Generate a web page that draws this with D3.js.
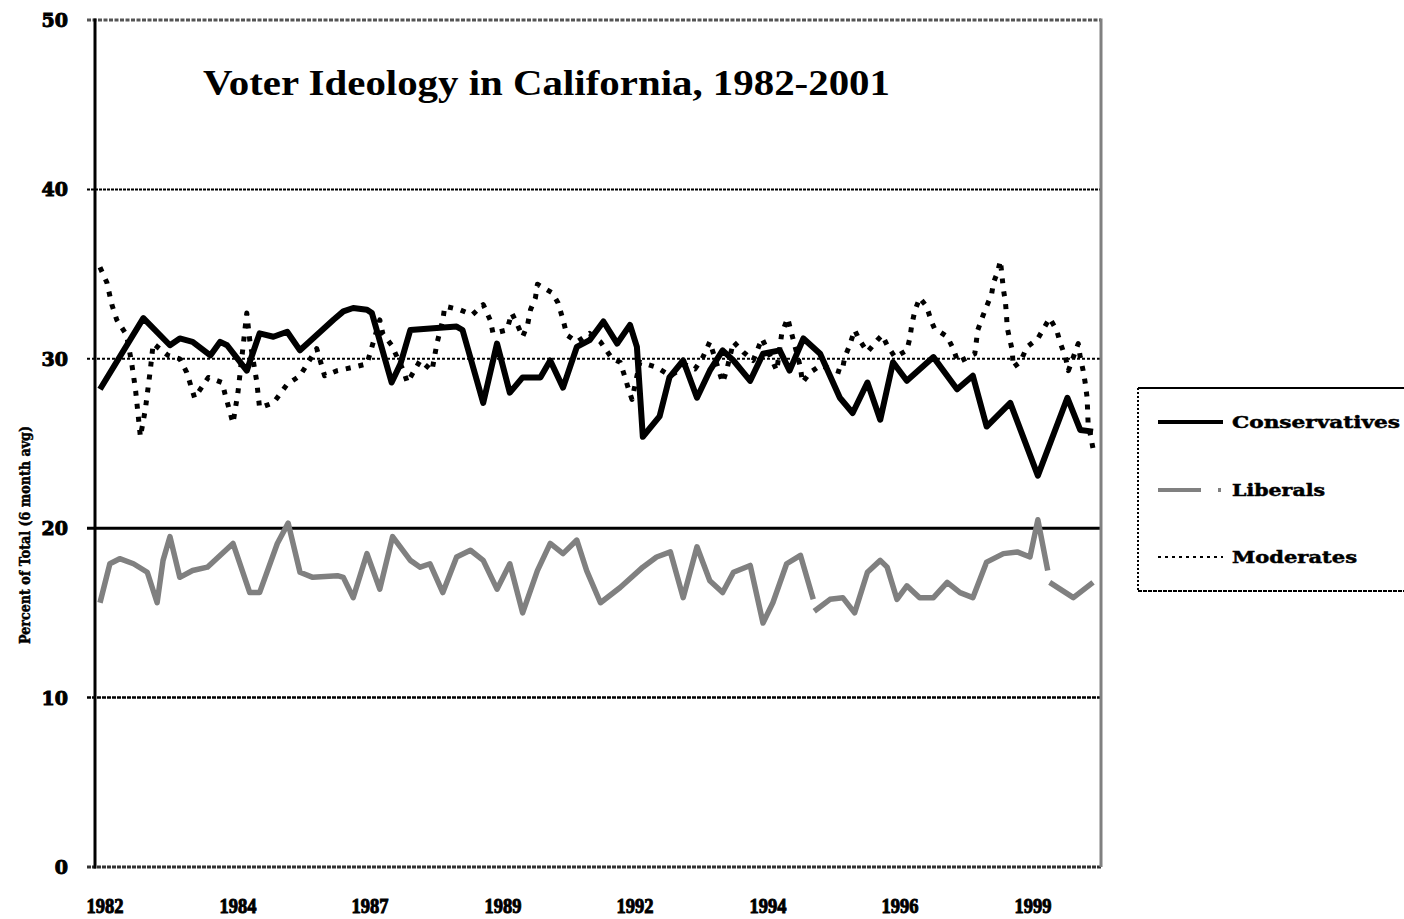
<!DOCTYPE html>
<html>
<head>
<meta charset="utf-8">
<script src="https://cdn.jsdelivr.net/npm/d3@7/dist/d3.min.js"></script>
<style>
  html, body { margin: 0; padding: 0; background: #fff; }
  svg { display: block; }
</style>
</head>
<body>
<svg id="chart" width="1404" height="919"></svg>
<script>
// ---------------- DATA ----------------
const chartTitle = "Voter Ideology in California, 1982-2001";
const yAxisTitle = "Percent of Total (6 month avg)";
const seriesNames = ["Conservatives", "Liberals", "Moderates"];
const yTickValues = [0, 10, 20, 30, 40, 50];
const xTickLabels = ["1982", "1984", "1987", "1989", "1992", "1994", "1996", "1999"];
const xTickPeriods = [0.5, 14, 27.4, 40.9, 54.3, 67.8, 81.2, 94.7];
const periodCount = 101;

// [survey period, percent]
const conservatives = [
  [0, 28.2], [4.4, 32.4], [7.1, 30.8], [8.1, 31.2], [9.4, 31.0], [11.2, 30.2], [12.2, 31.0],
  [12.9, 30.8], [14.9, 29.3], [16.2, 31.5], [17.6, 31.3], [19.0, 31.6], [20.3, 30.5],
  [23.7, 32.3], [24.7, 32.8], [25.7, 33.0], [27.1, 32.9], [27.6, 32.7], [29.6, 28.6],
  [30.5, 29.7], [31.5, 31.7], [36.2, 31.9], [36.8, 31.7], [38.9, 27.4], [40.3, 30.9],
  [41.6, 28.0], [42.9, 28.9], [44.7, 28.9], [45.7, 29.9], [47.0, 28.3], [48.4, 30.7],
  [49.7, 31.1], [51.1, 32.2], [52.5, 30.9], [53.8, 32.0], [54.5, 30.7], [55.1, 25.4],
  [56.8, 26.6], [57.8, 28.9], [59.2, 29.9], [60.6, 27.7], [61.9, 29.3], [63.2, 30.5],
  [64.3, 29.9], [66.0, 28.7], [67.3, 30.3], [69.0, 30.5], [70.0, 29.3], [71.4, 31.2],
  [73.1, 30.3], [75.1, 27.7], [76.4, 26.8], [77.9, 28.6], [79.2, 26.4], [80.5, 29.8],
  [81.9, 28.7], [84.6, 30.1], [87.0, 28.2], [88.6, 29.0], [90.0, 26.0], [92.4, 27.4],
  [95.2, 23.1], [98.2, 27.7], [99.5, 25.8], [100.8, 25.7]
];

const liberals = [
  [0, 15.6], [1.0, 17.9], [2.0, 18.2], [3.4, 17.9], [4.8, 17.4], [5.8, 15.6], [6.4, 18.1],
  [7.1, 19.5], [8.1, 17.1], [9.4, 17.5], [10.9, 17.7], [13.5, 19.1], [15.2, 16.2],
  [16.2, 16.2], [18.0, 19.1], [19.1, 20.3], [20.3, 17.4], [21.6, 17.1], [24.1, 17.2],
  [24.7, 17.1], [25.7, 15.9], [27.1, 18.5], [28.4, 16.4], [29.7, 19.5], [31.5, 18.1],
  [32.5, 17.7], [33.5, 17.9], [34.8, 16.2], [36.2, 18.3], [37.6, 18.7], [38.9, 18.1],
  [40.3, 16.4], [41.6, 17.9], [42.9, 15.0], [44.4, 17.5], [45.7, 19.1], [47.0, 18.5],
  [48.4, 19.3], [49.4, 17.5], [50.8, 15.6], [52.8, 16.5], [55.1, 17.7], [56.5, 18.3],
  [57.9, 18.6], [59.2, 15.9], [60.6, 18.9], [61.9, 16.9], [63.2, 16.2], [64.3, 17.4],
  [66.0, 17.8], [67.3, 14.4], [68.3, 15.6], [69.7, 17.9], [71.1, 18.4], [72.4, 15.8],
  null,
  [72.5, 15.1], [74.1, 15.8], [75.4, 15.9], [76.6, 15.0], [77.9, 17.4], [79.2, 18.1],
  [79.9, 17.7], [80.9, 15.8], [81.9, 16.6], [83.2, 15.9], [84.6, 15.9], [86.0, 16.8],
  [87.3, 16.2], [88.6, 15.9], [90.0, 18.0], [91.7, 18.5], [93.1, 18.6], [94.4, 18.3],
  [95.2, 20.5], [96.2, 17.5],
  null,
  [96.4, 16.8], [98.8, 15.9], [100.8, 16.8]
];

const moderates = [
  [0, 35.4], [0.7, 34.5], [1.2, 33.2], [1.7, 32.3], [2.7, 31.4], [3.2, 29.8], [3.6, 28.2],
  [4.1, 25.4], [4.6, 27.0], [5.1, 29.3], [5.4, 30.9], [6.9, 30.2], [8.1, 30.0], [8.8, 29.2],
  [9.6, 27.7], [11.0, 28.9], [12.4, 28.6], [12.7, 27.9], [13.5, 26.2], [14.0, 28.0],
  [14.9, 32.7], [15.2, 31.1], [15.9, 28.7], [16.2, 27.1], [17.6, 27.4], [19.0, 28.5],
  [20.3, 29.0], [22.0, 30.6], [22.8, 29.0], [24.1, 29.3], [25.7, 29.5], [27.1, 29.7],
  [28.4, 32.3], [28.7, 31.5], [29.6, 30.8], [30.8, 29.3], [31.2, 28.6], [32.5, 29.9],
  [33.7, 29.3], [34.2, 30.9], [34.8, 32.3], [35.0, 33.1], [36.5, 32.9], [37.8, 32.6],
  [38.9, 33.2], [39.6, 32.3], [39.9, 31.5], [41.3, 31.7], [41.8, 32.7], [42.3, 32.1],
  [42.9, 31.3], [43.4, 32.0], [43.7, 32.9], [44.2, 33.6], [44.4, 34.4], [45.9, 33.9],
  [46.5, 33.3], [47.0, 32.3], [47.4, 31.4], [48.4, 31.0], [49.7, 31.5], [50.8, 31.0],
  [52.0, 30.0], [52.8, 29.8], [53.3, 28.9], [53.6, 28.3], [54.0, 27.6], [54.8, 29.8],
  [56.5, 29.5], [57.9, 29.0], [59.6, 29.6], [60.4, 29.4], [61.2, 30.1], [61.9, 31.0],
  [63.2, 28.6], [63.6, 29.3], [64.3, 31.0], [65.3, 30.4], [66.3, 29.9], [67.2, 31.2],
  [68.7, 29.3], [69.2, 31.5], [69.8, 32.4], [71.1, 29.5], [71.3, 28.6], [72.1, 29.2],
  [73.1, 29.6], [75.3, 29.2], [75.6, 30.1], [76.1, 30.8], [76.6, 31.7], [77.1, 31.1],
  [77.9, 30.4], [78.9, 31.1], [79.4, 31.4], [79.9, 30.8], [80.7, 30.1], [81.9, 30.5],
  [82.2, 31.2], [82.4, 32.0], [82.7, 32.8], [83.2, 33.6], [83.9, 33.1], [84.4, 32.2],
  [84.7, 31.8], [86.0, 31.3], [86.6, 30.6], [87.1, 29.8], [88.8, 30.3], [89.1, 31.7],
  [89.6, 32.5], [90.0, 33.1], [90.5, 33.8], [90.7, 34.5], [91.1, 35.1], [91.4, 35.8],
  [91.7, 34.1], [91.9, 33.4], [92.0, 32.7], [92.1, 31.8], [92.6, 30.5], [92.7, 29.5],
  [93.4, 29.8], [94.1, 30.7], [95.2, 31.2], [96.4, 32.4], [97.1, 31.7], [97.5, 30.9],
  [98.0, 30.1], [98.3, 29.3], [99.3, 30.9], [99.5, 30.1], [99.8, 29.3], [100.0, 28.6],
  [100.2, 27.7], [100.3, 26.2], [100.8, 24.7]
];

// ---------------- DRAW ----------------
const svg = d3.select("#chart");
const plot = { left: 95, right: 1101, top: 20, bottom: 867 };

const x = d3.scaleLinear().domain([0, periodCount]).range([100, 1095]);
const y = d3.scaleLinear().domain([0, 50]).range([plot.bottom, plot.top]);

// Horizontal gridlines
const gridStyle = {
  0: { color: "#333", width: 3, dash: "4,1" },
  10: { color: "#000", width: 2.5, dash: "4,1" },
  20: { color: "#000", width: 3, dash: null },
  30: { color: "#000", width: 2, dash: "3,2" },
  40: { color: "#000", width: 2, dash: "3,1" },
  50: { color: "#555", width: 3, dash: "4,1.5" }
};
svg.append("g").selectAll("line").data(yTickValues).join("line")
  .attr("x1", plot.left - 8).attr("x2", plot.right)
  .attr("y1", d => y(d)).attr("y2", d => y(d))
  .attr("stroke", d => gridStyle[d].color)
  .attr("stroke-width", d => gridStyle[d].width)
  .attr("stroke-dasharray", d => gridStyle[d].dash);

// Right border (grey)
svg.append("line")
  .attr("x1", plot.right).attr("x2", plot.right)
  .attr("y1", plot.top - 1.5).attr("y2", plot.bottom)
  .attr("stroke", "#808080").attr("stroke-width", 3);

// Left axis line
svg.append("line")
  .attr("x1", plot.left).attr("x2", plot.left)
  .attr("y1", plot.top - 1.5).attr("y2", plot.bottom + 1.5)
  .attr("stroke", "#000").attr("stroke-width", 3);

// Y tick labels
svg.append("g").selectAll("text").data(yTickValues).join("text")
  .attr("x", 68).attr("y", d => y(d) + 7)
  .attr("text-anchor", "end")
  .attr("font-family", "DejaVu Serif")
  .attr("font-weight", "bold")
  .attr("font-size", 19)
  .attr("stroke", "#000").attr("stroke-width", 1)
  .text(d => d);

// X tick labels
svg.append("g").selectAll("text").data(xTickLabels).join("text")
  .attr("x", (d, i) => x(xTickPeriods[i]))
  .attr("y", 913)
  .attr("text-anchor", "middle")
  .attr("font-family", "Liberation Serif")
  .attr("font-weight", "bold")
  .attr("font-size", 21)
  .attr("stroke", "#000").attr("stroke-width", 1)
  .attr("textLength", 37).attr("lengthAdjust", "spacingAndGlyphs")
  .text(d => d);

// Y axis title
svg.append("text")
  .attr("transform", "translate(30,535) rotate(-90)")
  .attr("text-anchor", "middle")
  .attr("font-family", "DejaVu Serif")
  .attr("font-weight", "bold")
  .attr("font-size", 15)
  .attr("stroke", "#000").attr("stroke-width", 0.5)
  .attr("textLength", 218).attr("lengthAdjust", "spacingAndGlyphs")
  .text(yAxisTitle);

// Chart title
svg.append("text")
  .attr("x", 203).attr("y", 95)
  .attr("font-family", "Liberation Serif")
  .attr("font-weight", "bold")
  .attr("font-size", 35)
  .attr("textLength", 687).attr("lengthAdjust", "spacingAndGlyphs")
  .text(chartTitle);

// Lines
const line = d3.line()
  .defined(d => d !== null)
  .x(d => x(d[0]))
  .y(d => y(d[1]));

const seriesStyle = [
  { data: moderates, color: "#000", width: 5, dash: "5,8" },
  { data: liberals, color: "#808080", width: 5.5, dash: null },
  { data: conservatives, color: "#000", width: 6, dash: null }
];
svg.append("g").selectAll("path").data(seriesStyle).join("path")
  .attr("d", d => line(d.data))
  .attr("fill", "none")
  .attr("stroke", d => d.color)
  .attr("stroke-width", d => d.width)
  .attr("stroke-dasharray", d => d.dash)
  .attr("stroke-linejoin", "round");

// Legend
const lg = svg.append("g");
lg.append("rect").attr("x", 1138).attr("y", 388).attr("width", 280).attr("height", 203)
  .attr("fill", "#fff");
lg.append("line").attr("x1", 1138).attr("x2", 1404).attr("y1", 388).attr("y2", 388)
  .attr("stroke", "#000").attr("stroke-width", 2);
lg.append("line").attr("x1", 1138).attr("x2", 1138).attr("y1", 388).attr("y2", 591)
  .attr("stroke", "#000").attr("stroke-width", 2).attr("stroke-dasharray", "2,2");
lg.append("line").attr("x1", 1138).attr("x2", 1404).attr("y1", 591).attr("y2", 591)
  .attr("stroke", "#000").attr("stroke-width", 2).attr("stroke-dasharray", "4,1");

const legendItems = [
  { name: seriesNames[0], color: "#000", width: 4, dash: null, yy: 422, len: 168 },
  { name: seriesNames[1], color: "#808080", width: 4, dash: "43,17,3,20", yy: 490, len: 93 },
  { name: seriesNames[2], color: "#000", width: 2, dash: "3,4", yy: 557, len: 125 }
];
const li = lg.selectAll("g.item").data(legendItems).join("g").attr("class", "item");
li.append("line")
  .attr("x1", 1158).attr("x2", 1223)
  .attr("y1", d => d.yy).attr("y2", d => d.yy)
  .attr("stroke", d => d.color).attr("stroke-width", d => d.width)
  .attr("stroke-dasharray", d => d.dash);
li.append("text")
  .attr("x", 1232).attr("y", d => d.yy + 6)
  .attr("font-family", "DejaVu Serif")
  .attr("font-weight", "bold")
  .attr("font-size", 17)
  .attr("stroke", "#000").attr("stroke-width", 0.5)
  .attr("textLength", d => d.len).attr("lengthAdjust", "spacingAndGlyphs")
  .text(d => d.name);
</script>
</body>
</html>
